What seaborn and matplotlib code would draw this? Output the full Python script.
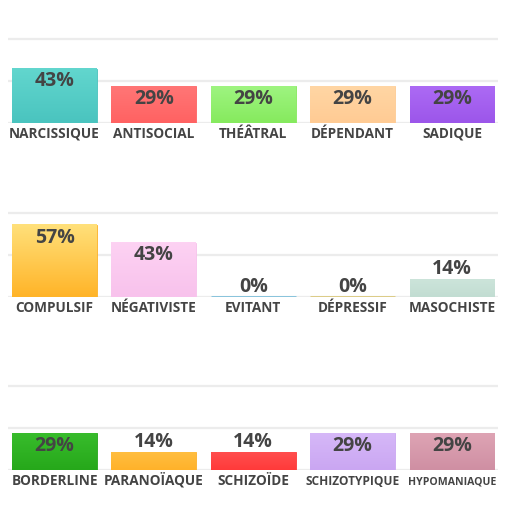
import numpy as np
import pandas as pd
import matplotlib
matplotlib.use("Agg")
import matplotlib.pyplot as plt
import seaborn as sns
from matplotlib.colors import LinearSegmentedColormap

# --- data (one list per row of the chart) ---
row1_labels = ["NARCISSIQUE", "ANTISOCIAL", "THÉÂTRAL", "DÉPENDANT", "SADIQUE"]
row1_values = [43, 29, 29, 29, 29]
row2_labels = ["COMPULSIF", "NÉGATIVISTE", "EVITANT", "DÉPRESSIF", "MASOCHISTE"]
row2_values = [57, 43, 0, 0, 14]
row3_labels = ["BORDERLINE", "PARANOÏAQUE", "SCHIZOÏDE", "SCHIZOTYPIQUE", "HYPOMANIAQUE"]
row3_values = [29, 14, 14, 29, 29]

# top / bottom colour of each bar (light gradient)
row1_top = ["#62d6ce", "#ff7676", "#9ef480", "#ffd6a4", "#ac6af4"]
row1_bot = ["#4ac4bf", "#ff6262", "#86ea5e", "#ffcb94", "#9c56ea"]
row2_top = ["#ffe07a", "#fdd2f3", "#6ab8d8", "#d8c268", "#cce4da"]
row2_bot = ["#ffb428", "#f8c2ec", "#6ab8d8", "#d8c268", "#c2ddd2"]
row3_top = ["#38bc2c", "#ffbe40", "#ff4e4e", "#d6b8f8", "#dea4b4"]
row3_bot = ["#26a81a", "#ffb22a", "#ff3a3a", "#caa6f2", "#cf8fa3"]

rows = [
    (row1_labels, row1_values, row1_top, row1_bot),
    (row2_labels, row2_values, row2_top, row2_bot),
    (row3_labels, row3_values, row3_top, row3_bot),
]

sns.set_theme(style="white")
plt.rcParams["font.family"] = ["Open Sans", "DejaVu Sans"]

fig = plt.figure(figsize=(5.05, 5.12), dpi=100)
W, H = 505, 512
baselines = [123, 297, 470]   # pixel rows of the bar bases
px_per_pct = 1.265
ymax = 70

for (labels, values, tops, bots), base in zip(rows, baselines):
    height_px = ymax * px_per_pct
    ax = fig.add_axes([8 / W, 1 - base / H, 490 / W, height_px / H])
    df = pd.DataFrame({"cat": labels, "val": values})
    sns.barplot(data=df, x="cat", y="val", hue="cat", palette=bots,
                legend=False, width=0.855, ax=ax, zorder=2)

    for p, v, c1, c2 in zip(ax.patches, values, tops, bots):
        p.set_edgecolor(c2)
        if v == 0:
            p.set_linewidth(1.8)
        else:
            p.set_linewidth(0.6)
            x0, w, h = p.get_x(), p.get_width(), p.get_height()
            cmap = LinearSegmentedColormap.from_list("g", [c2, c1])
            grad = np.linspace(0, 1, 50).reshape(-1, 1)
            ax.imshow(grad, cmap=cmap, origin="lower", aspect="auto",
                      extent=[x0, x0 + w, 0, h], zorder=2.5)
        cx = p.get_x() + p.get_width() / 2
        ty = v - 10 if v >= 25 else v + 8
        ax.text(cx, ty, f"{v}%", ha="center", va="center",
                fontsize=14, fontweight="bold", color="#444444", zorder=4)

    ax.set_xlim(-0.468, 4.463)
    ax.set_ylim(0, ymax)
    ax.set_yticks([0, 100 / 3, 200 / 3])
    ax.yaxis.grid(True, color="#ececec", linewidth=1.6, zorder=0)
    ax.set_axisbelow(True)
    ax.set_yticklabels([])
    ax.tick_params(axis="both", length=0)
    ax.tick_params(axis="x", pad=10.5)
    ax.set_xlabel("")
    ax.set_ylabel("")
    ax.set_xticks(range(len(labels)))
    ax.set_xticklabels(labels, fontweight="bold", color="#444444", va="baseline")
    for t, lab in zip(ax.get_xticklabels(), labels):
        # the two longest names are set smaller to fit under their bar
        if lab == "HYPOMANIAQUE":
            t.set_fontsize(7.6)
        elif len(lab) > 12:
            t.set_fontsize(8.6)
        else:
            t.set_fontsize(9.8)
    for s in ax.spines.values():
        s.set_visible(False)

fig.savefig("out.png", dpi=100, facecolor="white")
